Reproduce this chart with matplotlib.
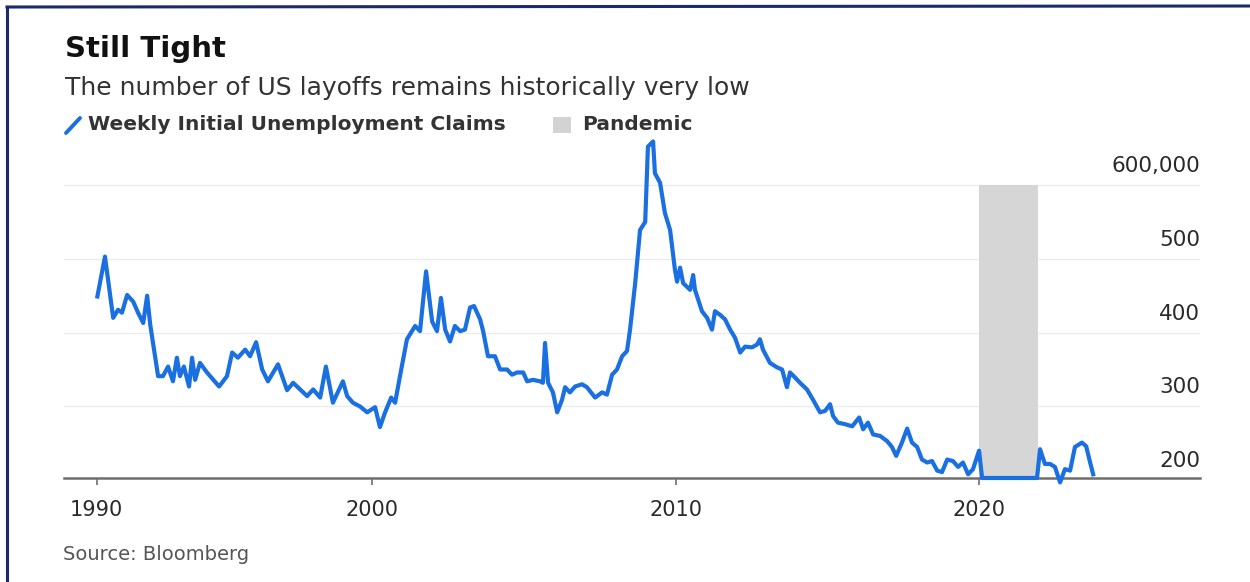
import matplotlib
matplotlib.use("Agg")
import matplotlib.pyplot as plt
import matplotlib.transforms as mtransforms
from matplotlib.lines import Line2D
from matplotlib.patches import Rectangle

# Weekly initial claims (thousands)
years = [1990.95, 1991.20, 1991.47, 1991.63, 1991.76, 1991.93, 1992.13, 1992.29, 1992.46, 1992.59,
         1992.69, 1992.95, 1993.11, 1993.28, 1993.44, 1993.57, 1993.67, 1993.80, 1993.97, 1994.07,
         1994.17, 1994.33, 1994.56, 1994.96, 1995.22, 1995.39, 1995.58, 1995.82, 1995.98, 1996.18,
         1996.38, 1996.57, 1996.74, 1996.90, 1997.20, 1997.40, 1997.63, 1997.86, 1998.06, 1998.29,
         1998.48, 1998.71, 1999.04, 1999.18, 1999.37, 1999.60, 1999.84, 2000.10, 2000.26, 2000.43,
         2000.63, 2000.76, 2000.92,
         2001.15, 2001.42, 2001.58, 2001.78, 2001.98, 2002.14, 2002.27, 2002.41, 2002.57, 2002.73,
         2002.90, 2003.06, 2003.23, 2003.36, 2003.56, 2003.66, 2003.82, 2004.05, 2004.22, 2004.45,
         2004.61, 2004.78, 2004.98, 2005.11, 2005.30, 2005.54, 2005.63, 2005.70, 2005.80, 2005.96,
         2006.10, 2006.26, 2006.36, 2006.52, 2006.69, 2006.92, 2007.08, 2007.35, 2007.58, 2007.74,
         2007.91, 2008.07, 2008.24, 2008.40, 2008.50, 2008.67, 2008.83, 2009.00, 2009.09, 2009.26,
         2009.32, 2009.49, 2009.65, 2009.82, 2009.98, 2010.05, 2010.15, 2010.25, 2010.48, 2010.58,
         2010.64, 2010.87, 2011.04, 2011.20, 2011.30, 2011.47, 2011.63, 2011.80, 2011.96, 2012.13,
         2012.29, 2012.52, 2012.69, 2012.78, 2012.88, 2013.11, 2013.34, 2013.51, 2013.67, 2013.77,
         2013.94,
         2014.10, 2014.33, 2014.53, 2014.76, 2014.93, 2015.09, 2015.19, 2015.35, 2015.58, 2015.82,
         2016.05, 2016.18, 2016.34, 2016.51, 2016.74, 2016.97, 2017.13, 2017.27, 2017.46, 2017.63,
         2017.79, 2017.96, 2018.12, 2018.29, 2018.45, 2018.62, 2018.78, 2018.95, 2019.14, 2019.31,
         2019.47, 2019.64, 2019.80, 2020.00, 2020.10, 2021.91, 2022.01, 2022.17, 2022.34, 2022.50,
         2022.67, 2022.83, 2023.00, 2023.16, 2023.39, 2023.53, 2023.66, 2023.76]

claims = [449, 503, 420, 431, 427, 451, 442, 427, 413, 450,
          411, 341, 341, 354, 334, 366, 341, 354, 327, 366,
          336, 359, 346, 327, 341, 373, 366, 377, 368, 387,
          350, 334, 346, 357, 322, 332, 323, 314, 323, 312,
          354, 305, 334, 314, 305, 300, 292, 299, 272, 292,
          312, 305, 341,
          391, 409, 402, 483, 415, 402, 447, 404, 388, 409,
          402, 404, 434, 436, 418, 402, 368, 368, 350, 350,
          343, 346, 346, 334, 336, 334, 332, 386, 332, 319,
          292, 309, 326, 319, 327, 330, 326, 312, 319, 316,
          343, 350, 368, 375, 404, 467, 539, 550, 652, 659,
          616, 603, 562, 539, 485, 469, 488, 467, 458, 478,
          458, 429, 420, 404, 429, 424, 418, 404, 393, 373,
          381, 380, 384, 391, 377, 359, 353, 350, 326, 346,
          339,
          332, 323, 309, 292, 294, 303, 287, 278, 276, 273,
          285, 269, 278, 262, 260, 253, 245, 233, 251, 270,
          251, 245, 228, 224, 226, 213, 211, 228, 226, 218,
          224, 208, 215, 240, 203, 203, 242, 222, 222, 218,
          197, 215, 213, 245, 251, 246, 224, 208]

pandemic = [2020.0, 2021.95]
band_top = 600

x_ticks = [1990.93, 2000, 2010, 2020]
x_labels = ["1990", "2000", "2010", "2020"]
y_grid = [300, 400, 500, 600]
y_values = [200, 300, 400, 500, 600]
y_labels = ["200", "300", "400", "500", "600,000"]

BLUE = "#1a70e0"
W, H = 1250, 582

fig = plt.figure(figsize=(W / 100, H / 100), dpi=100)
fig.patch.set_facecolor("white")

ax = fig.add_axes([64 / W, 104 / H, (1200 - 64) / W, (478 - 140) / H])
ax.set_xlim(1989.85, 2027.28)
ax.set_ylim(203, 661)

for v in y_grid:
    ax.axhline(v, color="#ececec", lw=1.0, zorder=0)

ax.fill_between(pandemic, 203, band_top, color="#d6d6d6", lw=0, zorder=1)
ax.plot(years, claims, color=BLUE, lw=3.0, zorder=3, clip_on=False,
        solid_joinstyle="round")

for s in ["top", "left", "right"]:
    ax.spines[s].set_visible(False)
ax.spines["bottom"].set_color("#6e6e6e")
ax.spines["bottom"].set_linewidth(1.8)
ax.spines["bottom"].set_zorder(2)

ax.set_yticks([])
ax.set_xticks(x_ticks)
ax.set_xticklabels(x_labels)
ax.tick_params(axis="x", length=5, width=1.2, color="#6e6e6e", pad=11,
               labelsize=15, labelcolor="#2a2a2a")

# y labels sit inside the plot, above their gridlines, right aligned
trans = mtransforms.blended_transform_factory(ax.transAxes, ax.transData)
trans = trans + mtransforms.ScaledTranslation(0, 13 / 100, fig.dpi_scale_trans)
for v, lab in zip(y_values, y_labels):
    ax.text(1.0, v, lab, transform=trans, ha="right", va="baseline",
            fontsize=15.5, color="#2a2a2a")

# titles
fig.text(65 / W, 1 - 57 / H, "Still Tight", fontsize=21, fontweight="bold",
         color="#111111", va="baseline")
fig.text(65 / W, 1 - 95 / H, "The number of US layoffs remains historically very low",
         fontsize=18, color="#333333", va="baseline")

# legend
fig.add_artist(Line2D([66 / W, 80 / W], [1 - 133 / H, 1 - 118 / H], color=BLUE,
                      lw=2.8, solid_capstyle="round"))
fig.text(88 / W, 1 - 130 / H, "Weekly Initial Unemployment Claims", fontsize=14.5,
         fontweight="bold", color="#333333", va="baseline")
fig.add_artist(Rectangle((553 / W, 1 - 133 / H), 18 / W, 16 / H, color="#d3d3d3", lw=0))
fig.text(582 / W, 1 - 130 / H, "Pandemic", fontsize=14.5, fontweight="bold",
         color="#333333", va="baseline")

fig.text(63 / W, 1 - 560 / H, "Source: Bloomberg", fontsize=14, color="#555555",
         va="baseline")

# dark frame on the left and top edges
fig.add_artist(Line2D([7 / W, 7 / W], [0, 1 - 7 / H], color="#1c2a6b", lw=2.2))
fig.add_artist(Line2D([7 / W, 1], [1 - 7 / H, 1 - 6 / H], color="#1c2a6b", lw=2.2))

fig.savefig("out.png", dpi=100)
